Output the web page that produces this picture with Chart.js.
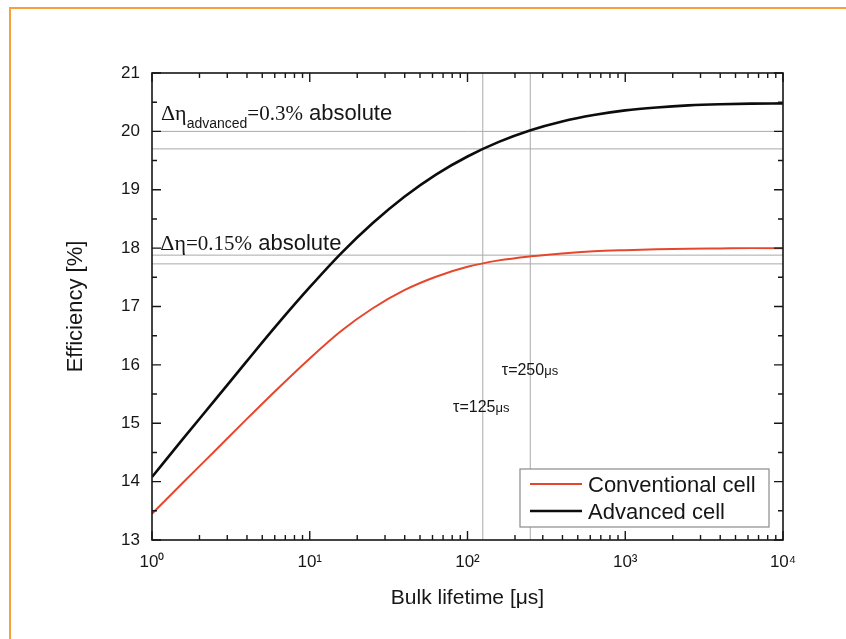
<!DOCTYPE html>
<html lang="en">
  <head>
    <meta charset="UTF-8" />
    <title>Efficiency vs bulk lifetime</title>
    <script src="https://cdn.jsdelivr.net/npm/chart.js@4.4.0/dist/chart.umd.min.js"></script>
    <style>
      html, body { margin: 0; padding: 0; background: #fff; }
    </style>
  </head>
  <body>
    <canvas id="myChart" width="846" height="639"></canvas>
    <script>
      // bulk lifetime in µs, efficiency in %
      const lifetimes = [1, 1.58, 2.51, 3.98, 6.31, 10, 15.8, 25.1, 39.8, 63.1, 100, 158, 251, 398, 631, 1000, 1580, 2510, 3980, 6310, 10000];
      const conventional = [13.45, 13.99, 14.53, 15.07, 15.6, 16.11, 16.58, 16.97, 17.28, 17.51, 17.68, 17.79, 17.86, 17.91, 17.945, 17.965, 17.98, 17.99, 17.995, 18.0, 18.0];
      const advanced = [14.08, 14.74, 15.4, 16.06, 16.71, 17.33, 17.91, 18.43, 18.88, 19.26, 19.57, 19.82, 20.02, 20.17, 20.28, 20.36, 20.41, 20.445, 20.465, 20.475, 20.48];
      const seriesNames = ["Conventional cell", "Advanced cell"];

      const refEfficiency = [20.0, 19.7, 17.88, 17.73];
      const refLifetime = [125, 250];

      const xTickValues = [1, 10, 100, 1000, 10000];
      const xTickLabels = ["10⁰", "10¹", "10²", "10³", "10⁴"];

      const SANS = '"Liberation Sans", Arial, sans-serif';
      const SERIF = '"Liberation Serif", "Times New Roman", serif';
      const INK = "#161616";

      function toPoints(ys) {
        return lifetimes.map((t, i) => ({ x: t, y: ys[i] }));
      }

      let datasets = [
        { label: seriesNames[0], data: toPoints(conventional), borderColor: "#e5472d", borderWidth: 2 },
        { label: seriesNames[1], data: toPoints(advanced), borderColor: "#0c0c0c", borderWidth: 2.6 },
      ];
      datasets.forEach((d) => {
        d.pointRadius = 0;
        d.cubicInterpolationMode = "monotone";
        d.fill = false;
      });

      refEfficiency.forEach((e) => {
        datasets.push({
          data: [{ x: 1, y: e }, { x: 10000, y: e }],
          borderColor: "#a9a9a9", borderWidth: 1, pointRadius: 0, ref: true,
        });
      });
      refLifetime.forEach((t) => {
        datasets.push({
          data: [{ x: t, y: 13 }, { x: t, y: 21 }],
          borderColor: "#a9a9a9", borderWidth: 1, pointRadius: 0, ref: true,
        });
      });

      // draws pieces of text one after another, each with its own font
      function drawRich(ctx, x, y, parts) {
        parts.forEach((p) => {
          ctx.font = p.font;
          ctx.fillText(p.text, x, y + (p.dy || 0));
          x += ctx.measureText(p.text).width;
        });
      }

      const decor = {
        id: "decor",
        beforeDraw(chart) {
          const ctx = chart.ctx;
          ctx.save();
          ctx.fillStyle = "#fff";
          ctx.fillRect(0, 0, chart.width, chart.height);
          // orange page frame
          ctx.strokeStyle = "#f6a13a";
          ctx.lineWidth = 2;
          ctx.beginPath();
          ctx.moveTo(10, chart.height);
          ctx.lineTo(10, 8);
          ctx.lineTo(chart.width, 8);
          ctx.stroke();
          ctx.restore();
        },
        afterDraw(chart) {
          const ctx = chart.ctx;
          const { left, right, top, bottom } = chart.chartArea;
          const xs = chart.scales.x;
          const ys = chart.scales.y;
          ctx.save();

          // plot box
          ctx.strokeStyle = INK;
          ctx.lineWidth = 1.6;
          ctx.strokeRect(left, top, right - left, bottom - top);

          // inward ticks on all four sides
          ctx.lineWidth = 1.4;
          ctx.beginPath();
          for (let d = 0; d <= 4; d++) {
            for (let m = 1; m <= 9; m++) {
              const v = m * Math.pow(10, d);
              if (v > 10000) break;
              const px = xs.getPixelForValue(v);
              const len = m === 1 ? 9 : 5;
              ctx.moveTo(px, bottom); ctx.lineTo(px, bottom - len);
              ctx.moveTo(px, top); ctx.lineTo(px, top + len);
            }
          }
          for (let v = 13; v <= 21; v += 0.5) {
            const py = ys.getPixelForValue(v);
            const len = Number.isInteger(v) ? 9 : 5;
            ctx.moveTo(left, py); ctx.lineTo(left + len, py);
            ctx.moveTo(right, py); ctx.lineTo(right - len, py);
          }
          ctx.stroke();

          // annotations
          ctx.fillStyle = INK;
          ctx.textBaseline = "alphabetic";
          ctx.textAlign = "left";
          drawRich(ctx, xs.getPixelForValue(1.14), ys.getPixelForValue(20.19), [
            { text: "Δη", font: "22px " + SERIF },
            { text: "advanced", font: "14px " + SANS, dy: 8 },
            { text: "=0.3%", font: "21px " + SERIF },
            { text: " absolute", font: "22px " + SANS },
          ]);
          drawRich(ctx, xs.getPixelForValue(1.13), ys.getPixelForValue(17.97), [
            { text: "Δη", font: "22px " + SERIF },
            { text: "=0.15%", font: "21px " + SERIF },
            { text: " absolute", font: "22px " + SANS },
          ]);
          drawRich(ctx, xs.getPixelForValue(165), ys.getPixelForValue(15.83), [
            { text: "τ=250", font: "16px " + SANS },
            { text: "μs", font: "13px " + SANS },
          ]);
          drawRich(ctx, xs.getPixelForValue(81), ys.getPixelForValue(15.2), [
            { text: "τ=125", font: "16px " + SANS },
            { text: "μs", font: "13px " + SANS },
          ]);

          // legend box, bottom right inside plot
          const w = 249, h = 58;
          const bx = right - 14 - w, by = bottom - 13 - h;
          ctx.fillStyle = "#fff";
          ctx.fillRect(bx, by, w, h);
          ctx.strokeStyle = "#8a8a8a";
          ctx.lineWidth = 1.2;
          ctx.strokeRect(bx, by, w, h);
          const items = chart.data.datasets.filter((d) => !d.ref);
          items.forEach((d, i) => {
            const ly = by + 15 + i * 27;
            ctx.strokeStyle = d.borderColor;
            ctx.lineWidth = d.borderWidth;
            ctx.beginPath();
            ctx.moveTo(bx + 10, ly);
            ctx.lineTo(bx + 62, ly);
            ctx.stroke();
            ctx.fillStyle = INK;
            ctx.font = "22px " + SANS;
            ctx.fillText(d.label, bx + 68, ly + 8);
          });

          ctx.restore();
        },
      };

      const chart = new Chart("myChart", {
        type: "line",
        data: { datasets },
        options: {
          responsive: false,
          animation: false,
          devicePixelRatio: 1,
          layout: { padding: { top: 73, right: 63, left: 0, bottom: 0 } },
          plugins: { legend: { display: false }, tooltip: { enabled: false } },
          scales: {
            x: {
              type: "logarithmic",
              min: 1,
              max: 10000,
              afterBuildTicks: (s) => {
                s.ticks = xTickValues.map((v) => ({ value: v }));
              },
              afterFit: (s) => {
                s.height = 99;
              },
              ticks: {
                callback: (v) => xTickLabels[xTickValues.indexOf(v)],
                autoSkip: false,
                maxRotation: 0,
                padding: 12,
                color: INK,
                font: { family: SANS, size: 17 },
              },
              grid: { display: false, drawTicks: false },
              border: { display: false },
              title: {
                display: true,
                text: "Bulk lifetime [μs]",
                color: INK,
                font: { family: SANS, size: 21 },
                padding: { top: 0, bottom: 28 },
              },
            },
            y: {
              type: "linear",
              min: 13,
              max: 21,
              afterFit: (s) => {
                s.width = 152;
              },
              ticks: {
                stepSize: 1,
                padding: 12,
                color: INK,
                font: { family: SANS, size: 17 },
              },
              grid: { display: false, drawTicks: false },
              border: { display: false },
              title: {
                display: true,
                text: "Efficiency [%]",
                color: INK,
                font: { family: SANS, size: 22 },
                padding: { top: 63, bottom: 0 },
              },
            },
          },
        },
        plugins: [decor],
      });
    </script>
  </body>
</html>
